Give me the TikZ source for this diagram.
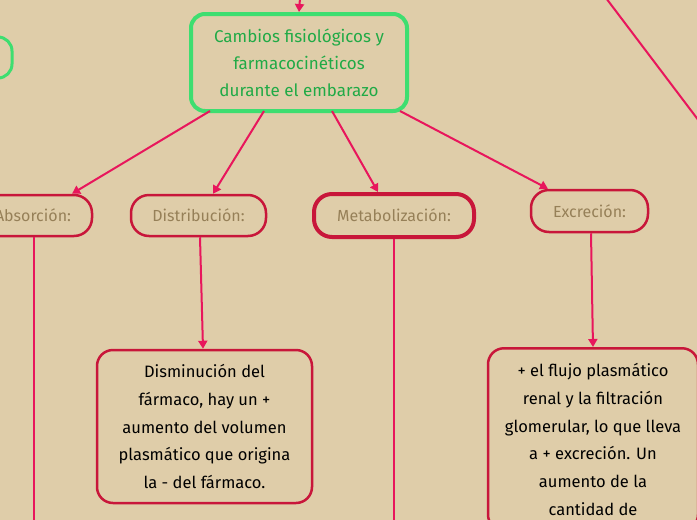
\documentclass[tikz,border=0pt]{standalone}
\usepackage{fontspec}
\setmainfont{Fira Sans}
\usetikzlibrary{arrows.meta}
\definecolor{bg}{RGB}{223,205,169}
\definecolor{grn}{RGB}{62,222,112}
\definecolor{grntxt}{RGB}{32,170,70}
\definecolor{crim}{RGB}{200,22,58}
\definecolor{pinkc}{RGB}{232,22,92}
\definecolor{brn}{RGB}{150,128,88}
\begin{document}
\begin{tikzpicture}[x=1pt,y=-1pt,
 mainbox/.style={draw=grn,line width=4pt,rounded corners=14pt,text=grntxt,align=center,font=\fontsize{17}{27}\selectfont,inner sep=0pt,minimum width=216pt,minimum height=97pt},
 catbox/.style={draw=crim,line width=2.5pt,rounded corners=18pt,text=brn,font=\fontsize{16}{18}\selectfont,inner sep=0pt,minimum height=41pt},
 descbox/.style={draw=crim,line width=2.5pt,rounded corners=16pt,text=black,align=center,font=\fontsize{16.5}{27.8}\selectfont,inner xsep=0pt},
 conn/.style={draw=pinkc,line width=2pt},
 arr/.style={conn,-{Triangle[length=8pt,width=9pt]}}]
\useasboundingbox (0,0) rectangle (697,520);
\fill[bg] (0,0) rectangle (697,520);
\clip (0,0) rectangle (697,520);
% nodes
\node[mainbox] (main) at (299,62.5) {Cambios fisiológicos y\\farmacocinéticos\\durante el embarazo};
\node[draw=grn,line width=3pt,rounded corners=14pt,minimum width=104pt,minimum height=41pt] (leftg) at (-40,57.5) {};
\node[catbox,minimum width=118pt] (absn) at (33,215.5) {Absorción:};
\node[catbox,minimum width=135pt] (distr) at (198.5,215.5) {Distribución:};
\node[catbox,minimum width=160pt,minimum height=43pt,line width=4pt] (meta) at (394,215.5) {Metabolización:};
\node[catbox,minimum width=117pt,minimum height=42pt] (excr) at (589.5,211) {Excreción:};
\node[descbox,minimum width=215pt,minimum height=153pt] (dism) at (204.5,426.5) {Disminución del\\fármaco, hay un +\\aumento del volumen\\plasmático que origina\\la - del fármaco.};
\node[descbox,minimum width=210pt,anchor=north,inner ysep=15pt] (excrd) at (593,347) {+ el flujo plasmático\\renal y la filtración\\glomerular, lo que lleva\\a + excreción. Un\\aumento de la\\cantidad de};
% free ends
\coordinate (topin) at (300,-2);
\coordinate (absend) at (34,525);
\coordinate (metaend) at (394,525);
\coordinate (diagA) at (606,-2);
\coordinate (diagB) at (699,121);
% connectors
\draw[arr] (topin) -- (main.north);
\draw[arr] ([xshift=-89pt,yshift=2pt]main.south) -- ([xshift=39pt]absn.north);
\draw[arr] ([xshift=-35pt,yshift=2pt]main.south) -- ([xshift=14.5pt]distr.north);
\draw[arr] ([xshift=33pt,yshift=2pt]main.south) -- ([xshift=-16pt]meta.north);
\draw[arr] ([xshift=101pt,yshift=2pt]main.south) -- ([xshift=-41.5pt]excr.north);
\draw[conn] ([xshift=1pt]absn.south) -- (absend);
\draw[arr] ([xshift=1.5pt]distr.south) -- ([xshift=-1.5pt]dism.north);
\draw[conn] (meta.south) -- (metaend);
\draw[arr] ([xshift=1.5pt]excr.south) -- (excrd.north);
\draw[conn] (diagA) -- (diagB);
\end{tikzpicture}
\end{document}
